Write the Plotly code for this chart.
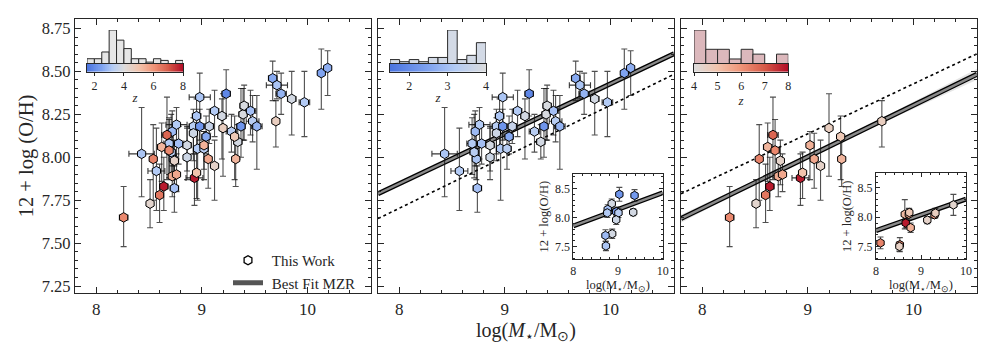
import plotly.graph_objects as go
import numpy as np

# ---- galaxies: log stellar mass, 12+log(O/H), errors, redshift ----
logm = [8.43, 8.57, 8.74, 8.73, 8.71, 8.69, 8.72, 8.76, 8.78, 8.86, 8.86, 8.92, 8.95,
        8.98, 8.92, 8.96, 8.98, 9.02, 9.04, 9.07, 9.12, 9.19, 9.23, 9.28, 9.34, 9.37,
        9.39, 9.40, 9.46, 9.48, 9.52, 9.67, 9.71, 9.75, 9.85, 9.97, 10.13, 10.19,
        8.26, 8.51, 8.54, 8.60, 8.62, 8.64, 8.67, 8.69, 8.72, 8.74, 8.76, 8.93, 8.95,
        9.02, 9.06, 9.12, 9.20, 9.31, 9.32, 9.70]
oh = [8.02, 7.92, 7.82, 7.99, 8.03, 8.08, 8.15, 8.19, 8.08, 8.07, 8.00, 8.18, 8.24,
      8.35, 8.14, 8.05, 8.18, 8.05, 8.12, 8.18, 8.27, 8.24, 8.37, 8.15, 8.09, 8.18,
      8.25, 8.30, 8.27, 8.21, 8.18, 8.46, 8.42, 8.37, 8.34, 8.32, 8.49, 8.52,
      7.65, 7.73, 7.99, 7.78, 8.06, 7.83, 8.13, 8.04, 7.89, 7.98, 7.90, 7.88, 7.91,
      8.07, 7.99, 7.95, 8.17, 8.12, 7.99, 8.21]
logm_err = [0.12, 0.08, 0.04, 0.03, 0.04, 0.05, 0.03, 0.10, 0.05, 0.04, 0.03, 0.04, 0.04,
            0.10, 0.03, 0.04, 0.04, 0.04, 0.04, 0.04, 0.04, 0.04, 0.04, 0.05, 0.04, 0.04,
            0.04, 0.04, 0.05, 0.06, 0.05, 0.04, 0.10, 0.05, 0.04, 0.05, 0.03, 0.03,
            0.04, 0.03, 0.03, 0.03, 0.04, 0.04, 0.05, 0.04, 0.03, 0.03, 0.03, 0.08, 0.03,
            0.03, 0.03, 0.03, 0.03, 0.03, 0.03, 0.03]
oh_lo = [0.25, 0.23, 0.14, 0.12, 0.15, 0.18, 0.20, 0.20, 0.12, 0.15, 0.13, 0.20, 0.18,
         0.25, 0.12, 0.30, 0.12, 0.12, 0.10, 0.10, 0.15, 0.25, 0.13, 0.12, 0.10, 0.18,
         0.15, 0.20, 0.14, 0.12, 0.25, 0.13, 0.08, 0.12, 0.21, 0.20, 0.21, 0.16,
         0.17, 0.14, 0.24, 0.16, 0.20, 0.14, 0.26, 0.16, 0.12, 0.14, 0.10, 0.16, 0.15,
         0.20, 0.17, 0.20, 0.28, 0.25, 0.16, 0.15]
oh_hi = [0.27, 0.25, 0.13, 0.20, 0.22, 0.15, 0.12, 0.10, 0.10, 0.10, 0.18, 0.10, 0.10,
         0.14, 0.09, 0.15, 0.10, 0.10, 0.12, 0.10, 0.12, 0.10, 0.14, 0.10, 0.10, 0.22,
         0.15, 0.12, 0.12, 0.15, 0.18, 0.10, 0.08, 0.12, 0.16, 0.18, 0.14, 0.10,
         0.18, 0.14, 0.20, 0.18, 0.14, 0.17, 0.22, 0.18, 0.10, 0.12, 0.12, 0.14, 0.12,
         0.08, 0.15, 0.15, 0.20, 0.12, 0.11, 0.12]
zred = [3.1, 3.2, 3.0, 3.1, 3.3, 3.2, 2.9, 3.2, 3.0, 3.8, 3.7, 3.3, 3.1,
        3.1, 3.7, 3.2, 2.2, 3.3, 2.6, 3.6, 3.2, 3.8, 1.9, 3.3, 3.8, 2.2,
        3.9, 3.9, 3.0, 3.3, 2.8, 2.6, 3.1, 2.8, 3.8, 3.2, 2.5, 2.7,
        6.2, 4.3, 6.3, 6.5, 5.3, 7.8, 6.8, 6.2, 5.5, 4.4, 5.6, 7.8, 5.0,
        5.4, 5.6, 4.4, 4.6, 4.8, 5.3, 4.6]

# ---- inset samples ----
ins_lo_m = [9.03, 9.37, 8.86, 8.77, 8.76, 8.96, 9.01, 8.96, 9.34, 8.87, 8.72, 8.73]
ins_lo_oh = [8.40, 8.38, 8.24, 8.14, 8.08, 8.10, 8.08, 7.96, 8.09, 7.72, 7.69, 7.51]
ins_lo_merr = [0.04, 0.05, 0.04, 0.03, 0.04, 0.05, 0.04, 0.03, 0.04, 0.03, 0.03, 0.03]
ins_lo_err = [0.12, 0.10, 0.08, 0.08, 0.08, 0.08, 0.08, 0.08, 0.06, 0.08, 0.10, 0.08]
ins_lo_z = [2.2, 2.3, 3.8, 3.0, 3.2, 2.4, 3.3, 3.7, 3.8, 3.8, 2.9, 3.1]

ins_hi_m = [8.10, 8.53, 8.52, 8.64, 8.73, 8.66, 8.77, 8.74, 9.14, 9.30, 9.32, 9.72]
ins_hi_oh = [7.56, 7.53, 7.50, 8.05, 8.05, 7.90, 7.82, 8.08, 7.95, 8.04, 8.07, 8.21]
ins_hi_merr = [0.03, 0.03, 0.03, 0.03, 0.03, 0.04, 0.03, 0.03, 0.03, 0.03, 0.03, 0.03]
ins_hi_err = [0.10, 0.12, 0.08, 0.25, 0.10, 0.08, 0.08, 0.06, 0.06, 0.06, 0.08, 0.18]
ins_hi_z = [6.3, 6.2, 4.5, 5.2, 5.6, 7.8, 5.4, 4.8, 4.4, 5.8, 4.6, 4.3]

# ---- redshift histograms (0.5 bins / 0.25 bins / 0.5 bins) ----
hist_all = [3, 3, 7, 20, 14, 9, 3, 3, 1, 3, 2, 0, 2]
hist_low = [2, 1, 2, 1, 3, 3, 16, 2, 4, 10]
hist_high = [7, 3, 3, 1, 3, 2, 0, 2]

# ---- best fit MZR: value at log M = 9, slope, slope uncertainty ----
fit_low = dict(b=8.137, a=0.291, da=0.01)
fit_high = dict(b=8.003, a=0.300, da=0.02)
fit_ins_low = dict(b=8.14, a=0.286)
fit_ins_high = dict(b=8.04, a=0.27)

CSCALE = [[0.0, '#4a74e0'], [0.154, '#7fa3f0'], [0.262, '#b3cbf5'], [0.385, '#dcdcdc'],
          [0.538, '#f2c4ad'], [0.692, '#ef9478'], [0.846, '#d65a48'], [1.0, '#b10a26']]
ZMIN, ZMAX = 1.5, 8.0
FONT = 'Liberation Serif'
INK = '#262626'

# page body adds an 8px offset, so the figure is shrunk by that much
OFF = 8
W, H = 997 - OFF, 356 - OFF
ML, MR, MT, MB = 75 - OFF, 20, 19 - OFF, 63
PW, PH = W - ML - MR, H - MT - MB


# positions below are given in window pixels
def fx(p):
  return (p - OFF - ML) / PW


def fy(p):
  return (MT + PH - (p - OFF)) / PH


fig = go.Figure()

zarr = np.array(zred)
low = zarr < 4
high = ~low


def pick(arr, mask):
  return list(np.array(arr)[mask])


def add_points(mask, xa, ya, m, o, me, lo, hi, z, size=9.5):
  fig.add_trace(go.Scatter(
    x=pick(m, mask), y=pick(o, mask), mode='markers',
    xaxis=xa, yaxis=ya, showlegend=False, hoverinfo='skip',
    error_x=dict(type='data', array=pick(me, mask), color='rgba(20,20,20,0.85)', thickness=1.1, width=3),
    error_y=dict(type='data', symmetric=False, array=pick(hi, mask), arrayminus=pick(lo, mask),
                 color='rgba(20,20,20,0.75)', thickness=1.1, width=3),
    marker=dict(symbol='hexagon', size=size, color=pick(z, mask), colorscale=CSCALE,
                cmin=ZMIN, cmax=ZMAX, line=dict(color='black', width=1))
  ))


def add_fit(fit, xa, ya, x0, x1, band=True, dotted=False):
  xs = np.linspace(x0, x1, 60)
  ys = fit['b'] + fit['a'] * (xs - 9)
  if dotted:
    fig.add_trace(go.Scatter(x=xs, y=ys, mode='lines', xaxis=xa, yaxis=ya, showlegend=False,
                             hoverinfo='skip', line=dict(color='black', width=1.6, dash='dot')))
    return
  if band:
    sig = np.sqrt(0.004 ** 2 + (fit['da'] * (xs - 9)) ** 2)
    fig.add_trace(go.Scatter(x=np.concatenate([xs, xs[::-1]]),
                             y=np.concatenate([ys + sig, (ys - sig)[::-1]]),
                             fill='toself', fillcolor='rgba(0,0,0,0.10)', line=dict(width=0),
                             mode='lines', xaxis=xa, yaxis=ya, showlegend=False, hoverinfo='skip'))
  fig.add_trace(go.Scatter(x=xs, y=ys, mode='lines', xaxis=xa, yaxis=ya, showlegend=False,
                           hoverinfo='skip', line=dict(color='black', width=5)))
  fig.add_trace(go.Scatter(x=xs, y=ys, mode='lines', xaxis=xa, yaxis=ya, showlegend=False,
                           hoverinfo='skip', line=dict(color='#8a8a8a', width=2.4)))


# main panels
add_fit(fit_high, 'x2', 'y2', 7.8, 10.6, dotted=True)
add_fit(fit_low, 'x2', 'y2', 7.8, 10.6)
add_fit(fit_low, 'x3', 'y3', 7.8, 10.6, dotted=True)
add_fit(fit_high, 'x3', 'y3', 7.8, 10.6)

allm = np.ones(len(zred), dtype=bool)
add_points(allm, 'x', 'y', logm, oh, logm_err, oh_lo, oh_hi, zred)
add_points(low, 'x2', 'y2', logm, oh, logm_err, oh_lo, oh_hi, zred)
add_points(high, 'x3', 'y3', logm, oh, logm_err, oh_lo, oh_hi, zred)

# insets
add_fit(fit_ins_low, 'x4', 'y4', 8, 10, band=False)
add_fit(fit_ins_high, 'x5', 'y5', 8, 10, band=False)
ones = np.ones(len(ins_lo_m), dtype=bool)
add_points(ones, 'x4', 'y4', ins_lo_m, ins_lo_oh, ins_lo_merr, ins_lo_err, ins_lo_err, ins_lo_z, size=8.5)
ones = np.ones(len(ins_hi_m), dtype=bool)
add_points(ones, 'x5', 'y5', ins_hi_m, ins_hi_oh, ins_hi_merr, ins_hi_err, ins_hi_err, ins_hi_z, size=8.5)

# legend entries (panel 1)
fig.add_trace(go.Scatter(x=[None], y=[None], mode='markers', name='&nbsp;This Work',
                         marker=dict(symbol='hexagon', size=9, color='white',
                                     line=dict(color='black', width=1.3))))
fig.add_trace(go.Scatter(x=[None], y=[None], mode='lines', name='&nbsp;Best Fit MZR',
                         line=dict(color='#555555', width=5)))

# redshift histograms + colour bars
hists = [(hist_all, 1.5, 0.5, '#e6e6e6', 87, 183, [2, 4, 6, 8]),
         (hist_low, 1.5, 0.25, '#d3dae6', 390, 486, [2, 3, 4]),
         (hist_high, 4.0, 0.5, '#dcb8bc', 694, 788.3, [4, 5, 6, 7, 8])]
layout_extra = {}
for i, (counts, lo, bw, col, px0, px1, tv) in enumerate(hists):
  hn, cn = 6 + i, 9 + i
  hi = lo + bw * len(counts)
  centers = lo + bw * (np.arange(len(counts)) + 0.5)
  fig.add_trace(go.Bar(x=centers, y=counts, width=bw, xaxis=f'x{hn}', yaxis=f'y{hn}',
                       marker=dict(color=col, line=dict(color='#2a2a2a', width=1)),
                       showlegend=False, hoverinfo='skip'))
  zg = np.linspace(lo, hi, 150)
  fig.add_trace(go.Heatmap(x=zg, y=[0], z=[zg], colorscale=CSCALE, zmin=ZMIN, zmax=ZMAX,
                           showscale=False, xaxis=f'x{cn}', yaxis=f'y{cn}', hoverinfo='skip'))
  dom = [fx(px0), fx(px1)]
  layout_extra[f'xaxis{hn}'] = dict(domain=dom, range=[lo, hi], anchor=f'y{hn}', visible=False)
  layout_extra[f'yaxis{hn}'] = dict(domain=[fy(63.8), fy(30)], range=[0, max(counts)],
                                    anchor=f'x{hn}', visible=False)
  layout_extra[f'xaxis{cn}'] = dict(
    domain=dom, range=[lo, hi], anchor=f'y{cn}', showline=True, mirror=True, linecolor=INK,
    linewidth=1, ticks='outside', ticklen=3, tickcolor=INK, tickvals=tv,
    tickfont=dict(size=12, color=INK), showgrid=False, zeroline=False,
    title=dict(text='<i>z</i>', font=dict(size=13, color=INK), standoff=0))
  layout_extra[f'yaxis{cn}'] = dict(domain=[fy(71.7), fy(63.8)], range=[-0.5, 0.5], anchor=f'x{cn}',
                                    showline=True, mirror=True, linecolor=INK, linewidth=1,
                                    showticklabels=False, ticks='', showgrid=False, zeroline=False)

frame = dict(showline=True, mirror='allticks', linecolor=INK, linewidth=1.3, ticks='inside',
             tickcolor=INK, showgrid=False, zeroline=False)
xmain = dict(frame, range=[7.8, 10.6], tickvals=[8, 9, 10], ticklen=6, tickwidth=1.1,
             tickfont=dict(size=17, color=INK),
             minor=dict(ticks='inside', ticklen=3, dtick=0.2, tickcolor=INK))
ymain = dict(frame, range=[7.21, 8.805], tickvals=[7.25, 7.5, 7.75, 8.0, 8.25, 8.5, 8.75],
             tickformat='.2f', ticklen=6, tickwidth=1.1, tickfont=dict(size=16.5, color=INK),
             minor=dict(ticks='inside', ticklen=3, dtick=0.05, tick0=7.25, tickcolor=INK))
xin = dict(frame, range=[8, 10], tickvals=[8, 9, 10], ticklen=4, linewidth=1,
           tickfont=dict(size=12, color=INK),
           minor=dict(ticks='inside', ticklen=2, dtick=0.2, tickcolor=INK),
           title=dict(text='log(M<sub>⋆</sub>/M<sub>⊙</sub>)', font=dict(size=12.5, color=INK), standoff=3))
yin = dict(frame, range=[7.28, 8.75], tickvals=[7.5, 8.0, 8.5], tickformat='.1f', ticklen=4,
           linewidth=1, tickfont=dict(size=12, color=INK),
           minor=dict(ticks='inside', ticklen=2, dtick=0.1, tick0=7.5, tickcolor=INK),
           title=dict(text='12 + log(O/H)', font=dict(size=12.5, color=INK), standoff=3))

fig.update_layout(
  width=W, height=H,
  margin=dict(l=ML, r=MR, t=MT, b=MB),
  paper_bgcolor='white', plot_bgcolor='white',
  font=dict(family=FONT, color=INK),
  xaxis=dict(xmain, domain=[0, fx(371)], anchor='y'),
  yaxis=dict(ymain, domain=[0, 1], anchor='x',
             title=dict(text='12 + log (O/H)', font=dict(size=20.5, color=INK), standoff=2)),
  xaxis2=dict(xmain, domain=[fx(378), fx(674)], anchor='y2',
              title=dict(text='log(<i>M</i><sub>⋆</sub>/M<sub>⊙</sub>)', font=dict(size=20, color=INK),
                         standoff=4)),
  yaxis2=dict(ymain, domain=[0, 1], anchor='x2', showticklabels=False),
  xaxis3=dict(xmain, domain=[fx(681), 1], anchor='y3'),
  yaxis3=dict(ymain, domain=[0, 1], anchor='x3', showticklabels=False),
  xaxis4=dict(xin, domain=[fx(573.3), fx(662.7)], anchor='y4'),
  yaxis4=dict(yin, domain=[fy(259.3), fy(174)], anchor='x4'),
  xaxis5=dict(xin, domain=[fx(876), fx(966)], anchor='y5'),
  yaxis5=dict(yin, domain=[fy(259.3), fy(173.3)], anchor='x5'),
  legend=dict(x=fx(228), y=fy(244), xanchor='left', yanchor='top', bgcolor='rgba(0,0,0,0)',
              font=dict(size=15, color=INK), itemwidth=30, tracegroupgap=0),
  **layout_extra
)

fig.write_html('out.html')
